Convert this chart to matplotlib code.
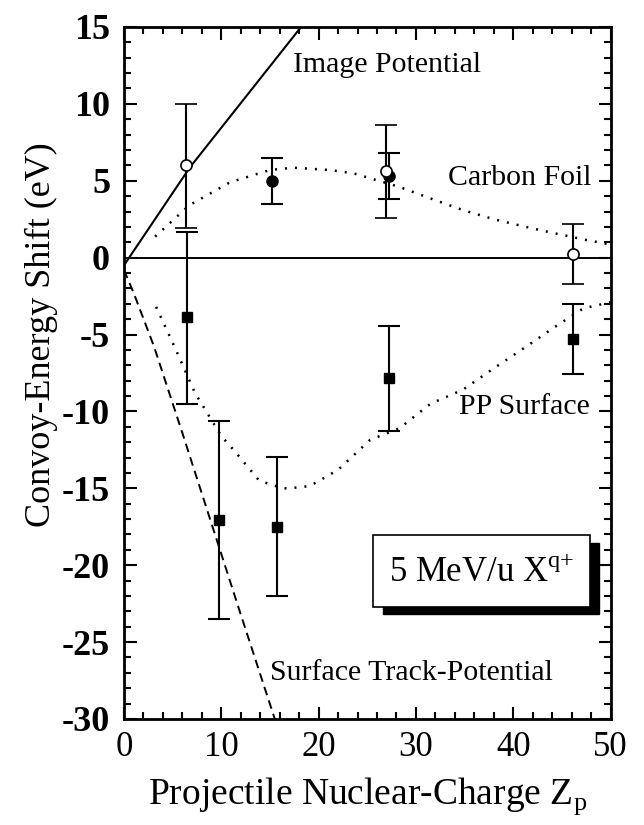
import matplotlib
matplotlib.use("Agg")
import matplotlib.pyplot as plt
from matplotlib.patches import Rectangle
from matplotlib.ticker import MultipleLocator

# ---- data ----
# Carbon foil (open circles)
cf_open_z = [6.4, 26.9, 46.1]
cf_open_e = [6.0, 5.64, 0.22]
cf_open_lo = [1.95, 2.6, -1.73]
cf_open_hi = [9.97, 8.63, 2.19]

# Carbon foil (filled circles)
cf_fill_z = [15.2, 27.2]
cf_fill_e = [4.99, 5.31]
cf_fill_lo = [3.49, 3.82]
cf_fill_hi = [6.5, 6.83]

# PP surface (filled squares)
pp_z = [6.45, 9.73, 15.7, 27.2, 46.1]
pp_e = [-3.88, -17.06, -17.5, -7.8, -5.29]
pp_lo = [-9.51, -23.5, -21.98, -11.27, -7.56]
pp_hi = [1.69, -10.6, -12.98, -4.42, -3.01]

# Image potential (solid line)
img_z = [0.0, 6.75, 18.2]
img_e = [-0.5, 5.85, 15.0]

# Surface track-potential (dashed)
trk_z = [0.0, 1.0, 3.1, 6.0, 9.1, 12.0, 15.5]
trk_e = [-0.8, -2.3, -5.8, -11.4, -17.5, -23.2, -30.0]

# Carbon foil theory (dotted)
cft_z = [3.2, 6.7, 10.9, 15.0, 17.4, 21.1, 23.5, 25.9, 28.3, 31.5, 34.8, 38.0, 41.3, 44.5, 47.5, 50.0]
cft_e = [1.37, 3.4, 4.9, 5.7, 5.85, 5.7, 5.5, 5.05, 4.6, 3.85, 3.1, 2.5, 2.0, 1.55, 1.15, 0.85]

# PP surface theory (dotted)
ppt_z = [3.3, 5.2, 7.3, 10.0, 11.4, 13.9, 16.3, 17.0, 19.1, 22.0, 25.3, 28.3, 31.5, 34.8, 38.0, 41.3, 44.3, 47.2, 50.0]
ppt_e = [-3.2, -5.8, -8.8, -11.6, -12.6, -14.5, -15.0, -15.0, -14.85, -13.8, -11.85, -11.1, -9.5, -8.6, -7.2, -5.8, -4.5, -3.3, -2.9]

x_ticks = [0, 10, 20, 30, 40, 50]
y_ticks = [15, 10, 5, 0, -5, -10, -15, -20, -25, -30]

serif = ["Liberation Serif", "DejaVu Serif"]
plt.rcParams["font.family"] = serif
plt.rcParams["axes.unicode_minus"] = False
plt.rcParams["mathtext.fontset"] = "custom"
plt.rcParams["mathtext.rm"] = "Liberation Serif"

fig = plt.figure(figsize=(6.44, 8.25), dpi=100)
ax = fig.add_axes([0.1925, 0.1285, 0.7555, 0.8388])

ax.set_xlim(0, 50)
ax.set_ylim(-30, 15)

# zero line
ax.axhline(0, color="black", lw=1.4, zorder=1)

# theory curves
ax.plot(img_z, img_e, color="black", lw=1.5, zorder=2)
ax.plot(trk_z, trk_e, color="black", lw=1.4, linestyle=(0, (4.5, 2.8)), zorder=2)
ax.plot(cft_z, cft_e, color="black", lw=1.8, linestyle=(0, (0.8, 3.2)), zorder=2)
ax.plot(ppt_z, ppt_e, color="black", lw=1.8, linestyle=(0, (0.8, 3.2)), zorder=2)

def errs(v, lo, hi):
    return [[a - b for a, b in zip(v, lo)], [c - a for a, c in zip(v, hi)]]

ekw = dict(ecolor="black", elinewidth=1.5, capsize=8, capthick=1.5, linestyle="none")
ax.errorbar(pp_z, pp_e, yerr=errs(pp_e, pp_lo, pp_hi), marker="s", ms=7.5,
            mfc="black", mec="black", zorder=3, **ekw)
ax.errorbar(cf_fill_z, cf_fill_e, yerr=errs(cf_fill_e, cf_fill_lo, cf_fill_hi), marker="o", ms=8,
            mfc="black", mec="black", zorder=3, **ekw)
ax.errorbar(cf_open_z, cf_open_e, yerr=errs(cf_open_e, cf_open_lo, cf_open_hi), marker="o", ms=8,
            mfc="white", mec="black", mew=1.2, zorder=4, **ekw)

# ticks
ax.set_xticks(x_ticks)
ax.set_yticks(y_ticks)
ax.xaxis.set_minor_locator(MultipleLocator(2))
ax.yaxis.set_minor_locator(MultipleLocator(1))
ax.tick_params(which="both", direction="in", top=True, right=True, width=1.5)
ax.tick_params(which="major", length=9)
ax.tick_params(which="minor", length=5)
ax.tick_params(axis="x", labelsize=25, pad=9)
ax.tick_params(axis="y", labelsize=26, pad=10)
for lab in ax.get_yticklabels():
    lab.set_fontweight("bold")
for s in ax.spines.values():
    s.set_linewidth(2.0)

ax.set_xlabel("Projectile Nuclear-Charge Z$_\\mathregular{p}$", fontsize=27, labelpad=8)
ax.set_ylabel("Convoy-Energy Shift (eV)", fontsize=26)
ax.yaxis.set_label_coords(-0.135, 0.555)

# annotations
ax.text(17.4, 12.5, "Image Potential", fontsize=21.5, ha="left", va="center")
ax.text(48.0, 5.2, "Carbon Foil", fontsize=21.5, ha="right", va="center")
ax.text(47.9, -9.7, "PP Surface", fontsize=21.5, ha="right", va="center")
ax.text(15.0, -27.0, "Surface Track-Potential", fontsize=21.5, ha="left", va="center")

# boxed label with shadow
bx, by, bw, bh = 0.512, 0.162, 0.445, 0.104
ax.add_patch(Rectangle((bx + 0.02, by - 0.011), bw, bh, transform=ax.transAxes,
                       facecolor="black", edgecolor="black", zorder=5))
ax.add_patch(Rectangle((bx, by), bw, bh, transform=ax.transAxes,
                       facecolor="white", edgecolor="black", lw=1.2, zorder=6))
ax.text(bx + bw / 2, by + bh / 2 - 0.004, "5 MeV/u X$^{\\mathregular{q{+}}}$", transform=ax.transAxes,
        fontsize=25, ha="center", va="center", zorder=7)

fig.savefig("out.png", dpi=100)
